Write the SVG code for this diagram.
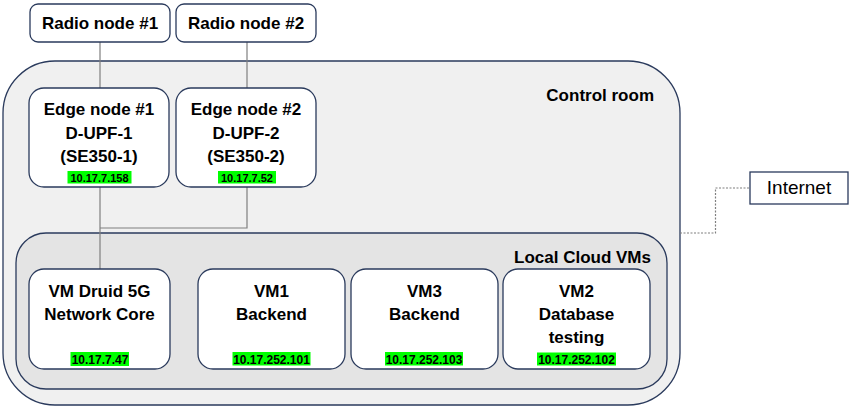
<svg xmlns="http://www.w3.org/2000/svg" width="855" height="418" viewBox="0 0 855 418">
<style>
.box{fill:#fff;stroke:#2a3a5c;stroke-width:1.3}
.t{font-family:"Liberation Sans",Arial,sans-serif;font-weight:bold;font-size:17px;fill:#000;text-anchor:middle}
.ip{font-family:"Liberation Sans",Arial,sans-serif;font-weight:bold;font-size:11px;fill:#000;text-anchor:middle}
.ipv{font-size:12px}
.hl{fill:#00ff00}
.ln{stroke:#7f7f7f;stroke-width:1.2;fill:none}
</style>
<rect width="855" height="418" fill="#fff"/>
<g id="control-room">
<rect x="3" y="61" width="677" height="344" rx="52" fill="#f0f0f0" stroke="#2a3a5c" stroke-width="1.3"/>
<text class="t" x="654" y="101" style="text-anchor:end">Control room</text>
</g>
<g id="local-cloud">
<rect x="16" y="233" width="651" height="156" rx="30" fill="#e4e4e4" stroke="#2a3a5c" stroke-width="1.3"/>
<text class="t" x="651" y="263" style="text-anchor:end">Local Cloud VMs</text>
</g>
<g id="connectors">
<line class="ln" x1="100" y1="42" x2="100" y2="88"/>
<line class="ln" x1="247" y1="42" x2="247" y2="88"/>
<line class="ln" x1="100" y1="187" x2="100" y2="269"/>
<polyline class="ln" points="247,187 247,228 100,228"/>
<polyline points="680,233 715.5,233 715.5,188 750,188" fill="none" stroke="#7f7f7f" stroke-width="1.2" stroke-dasharray="2,1.5"/>
</g>
<g id="radio1">
<rect class="box" x="30" y="4" width="140" height="38" rx="8"/>
<text class="t" x="100" y="29">Radio node #1</text>
</g>
<g id="radio2">
<rect class="box" x="176" y="4" width="140" height="38" rx="8"/>
<text class="t" x="246" y="29">Radio node #2</text>
</g>
<g id="edge1">
<rect class="box" x="29" y="88" width="140" height="99" rx="15"/>
<text class="t" x="99" y="115">Edge node #1</text>
<text class="t" x="99" y="139">D-UPF-1</text>
<text class="t" x="99" y="162">(SE350-1)</text>
<rect class="hl" x="67.5" y="171" width="64" height="12.5"/>
<text class="ip" x="99.5" y="181.5">10.17.7.158</text>
</g>
<g id="edge2">
<rect class="box" x="176" y="88" width="140" height="99" rx="15"/>
<text class="t" x="246" y="115">Edge node #2</text>
<text class="t" x="246" y="139">D-UPF-2</text>
<text class="t" x="246" y="162">(SE350-2)</text>
<rect class="hl" x="218" y="171" width="58" height="12.5"/>
<text class="ip" x="247" y="181.5">10.17.7.52</text>
</g>
<g id="vm-druid">
<rect class="box" x="29" y="269" width="141" height="100" rx="15"/>
<text class="t" x="99.5" y="297">VM Druid 5G</text>
<text class="t" x="99.5" y="320">Network Core</text>
<rect class="hl" x="70.5" y="352" width="58.5" height="14"/>
<text class="ip ipv" x="100" y="363.5">10.17.7.47</text>
</g>
<g id="vm1">
<rect class="box" x="198" y="269" width="147" height="100" rx="15"/>
<text class="t" x="271.5" y="297">VM1</text>
<text class="t" x="271.5" y="320">Backend</text>
<rect class="hl" x="232.5" y="352" width="78" height="13.5"/>
<text class="ip ipv" x="271.5" y="363.5">10.17.252.101</text>
</g>
<g id="vm3">
<rect class="box" x="351" y="269" width="147" height="100" rx="15"/>
<text class="t" x="424.5" y="297">VM3</text>
<text class="t" x="424.5" y="320">Backend</text>
<rect class="hl" x="385" y="352" width="78" height="13.5"/>
<text class="ip ipv" x="424" y="363.5">10.17.252.103</text>
</g>
<g id="vm2">
<rect class="box" x="503" y="269" width="147" height="100" rx="15"/>
<text class="t" x="576.5" y="297">VM2</text>
<text class="t" x="576.5" y="320">Database</text>
<text class="t" x="576.5" y="343">testing</text>
<rect class="hl" x="537" y="352.5" width="79" height="13"/>
<text class="ip ipv" x="576.5" y="363.5">10.17.252.102</text>
</g>
<g id="internet">
<rect x="750" y="172" width="98" height="32" fill="#fff" stroke="#2a3a5c" stroke-width="1.3"/>
<text x="799" y="194" font-family="Liberation Sans, Arial, sans-serif" font-size="19" text-anchor="middle" fill="#000">Internet</text>
</g>
</svg>
